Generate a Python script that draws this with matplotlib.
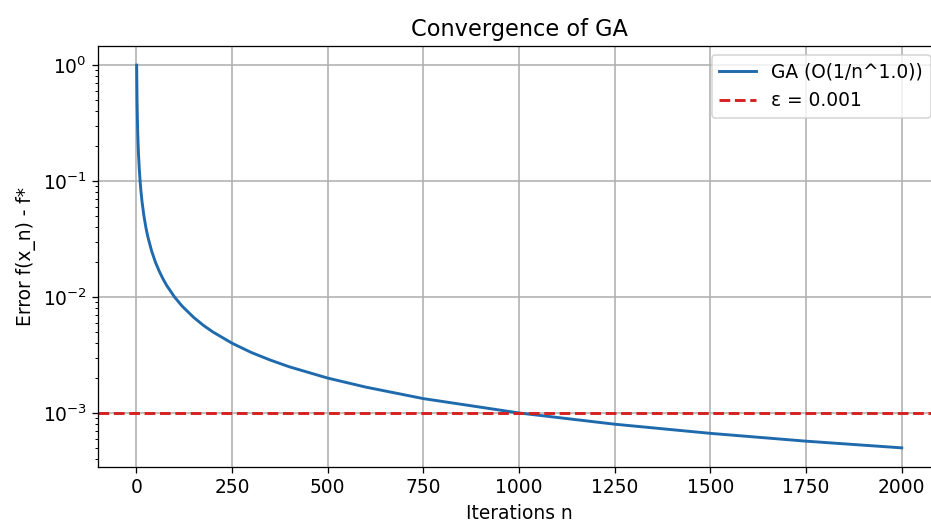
import matplotlib
matplotlib.use("Agg")
import matplotlib.pyplot as plt

# values
iters = [1, 2, 3, 4, 5, 6, 8, 10, 12, 15, 20, 25, 30, 40, 50, 60, 70, 80,
         100, 120, 150, 175, 200, 250, 300, 350, 400, 500, 600, 750, 1000,
         1250, 1500, 1750, 2000]
error = [1.0, 0.5, 0.333, 0.25, 0.2, 0.167, 0.125, 0.1, 0.0833, 0.0667,
         0.05, 0.04, 0.0333, 0.025, 0.02, 0.0167, 0.0143, 0.0125, 0.01,
         0.00833, 0.00667, 0.00571, 0.005, 0.004, 0.00333, 0.00286, 0.0025,
         0.002, 0.00167, 0.00133, 0.001, 0.0008, 0.000667, 0.000571, 0.0005]
eps = 0.001

plt.rcParams['font.size'] = 11.6
plt.rcParams['axes.titlesize'] = 14

fig = plt.figure(figsize=(931 / 116, 522 / 116), dpi=116)
ax = fig.add_axes([98 / 931, 55 / 522, 842 / 931, 421 / 522])

ax.plot(iters, error, color='#1f6aac', linewidth=1.8, label='GA (O(1/n^1.0))')
ax.axhline(eps, color='#d62020', linestyle='--', linewidth=1.8, label='ε = 0.001')
ax.set_yscale('log')
ax.set_xlim(-100, 2100)
ax.set_title('Convergence of GA')
ax.set_xlabel('Iterations n')
ax.set_ylabel('Error f(x_n) - f*')
ax.grid(True, which='major', color='#b0b0b0', linewidth=1.0)
ax.legend(loc='upper right')

fig.savefig('out.png', dpi=116)
